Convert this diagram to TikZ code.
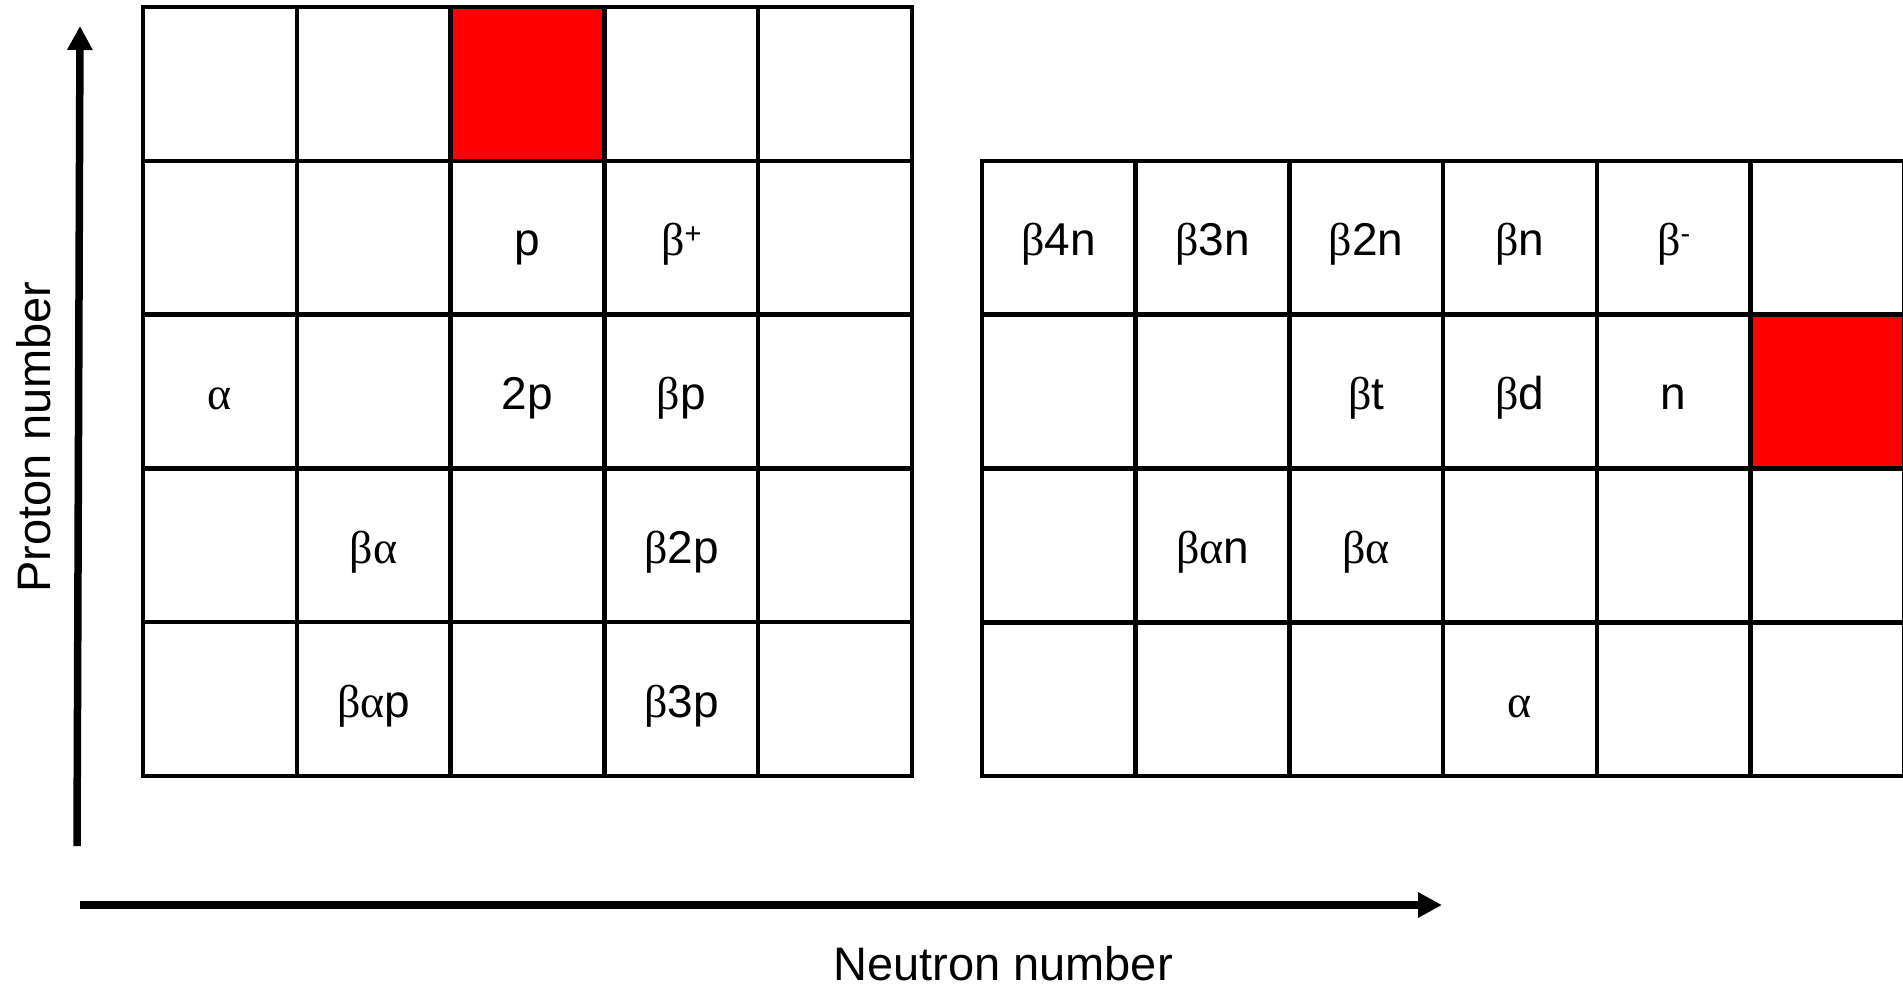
\documentclass[tikz,border=0pt]{standalone}
\usepackage{fontspec}
\setmainfont{Liberation Sans}
\newfontfamily\grk{Liberation Serif}
\usetikzlibrary{arrows.meta}
\newcommand{\bt}{{\grk β}}
\newcommand{\al}{{\grk α}}
\newcommand{\supx}[1]{\raisebox{12pt}{\fontsize{29}{30}\selectfont #1}}
\begin{document}
\begin{tikzpicture}[x=1pt,y=-1pt,
  cellbox/.style={draw=black, line width=4.5pt, minimum width=153.8pt, minimum height=153.8pt, inner sep=0pt, outer sep=0pt},
  hot/.style={fill=red},
  cellL13/.style={hot},
  cellR26/.style={hot},
  lbl/.style={font=\fontsize{46}{50}\selectfont, inner sep=0pt, anchor=base, yshift=-18pt},
  axislabel/.style={font=\fontsize{47}{52}\selectfont, inner sep=0pt},
  axisarrow/.style={line width=7.5pt, -{Triangle[length=24pt,width=24pt]}}]
\useasboundingbox (0,0) rectangle (1903,986);
% left grid
\foreach \r in {1,...,5}{\foreach \c in {1,...,5}{
  \node[cellbox, cellL\r\c/.try] (L-\r-\c) at ({143+(\c-0.5)*153.8},{7+(\r-0.5)*153.8}) {};
}}
% right grid
\foreach \r in {1,...,4}{\foreach \c in {1,...,6}{
  \node[cellbox, cellR\r\c/.try] (R-\r-\c) at ({982+(\c-0.5)*153.7},{161+(\r-0.5)*153.75}) {};
}}
% left labels
\node[lbl] (l-p)   at (L-2-3) {p};
\node[lbl] (l-bp1) at (L-2-4) {\bt\supx{+}};
\node[lbl] (l-a)   at (L-3-1) {\al};
\node[lbl] (l-2p)  at (L-3-3) {2p};
\node[lbl] (l-bp)  at (L-3-4) {\bt p};
\node[lbl] (l-ba)  at (L-4-2) {\bt\al};
\node[lbl] (l-b2p) at (L-4-4) {\bt 2p};
\node[lbl] (l-bap) at (L-5-2) {\bt\al p};
\node[lbl] (l-b3p) at (L-5-4) {\bt 3p};
% right labels
\node[lbl] (r-b4n) at (R-1-1) {\bt 4n};
\node[lbl] (r-b3n) at (R-1-2) {\bt 3n};
\node[lbl] (r-b2n) at (R-1-3) {\bt 2n};
\node[lbl] (r-bn)  at (R-1-4) {\bt n};
\node[lbl] (r-bm)  at (R-1-5) {\bt\supx{-}};
\node[lbl] (r-bt)  at (R-2-3) {\bt t};
\node[lbl] (r-bd)  at (R-2-4) {\bt d};
\node[lbl] (r-n)   at (R-2-5) {n};
\node[lbl] (r-ban) at (R-3-2) {\bt\al n};
\node[lbl] (r-ba)  at (R-3-3) {\bt\al};
\node[lbl] (r-a)   at (R-4-4) {\al};
% axes
\coordinate (ybot) at (77,846);
\coordinate (ytop) at (80,26);
\draw[axisarrow] (ybot) -- (ytop);
\coordinate (xl) at (80,905);
\coordinate (xr) at (1442,905);
\draw[axisarrow] (xl) -- (xr);
\node[axislabel, anchor=base] (nlab) at (1003,980) {Neutron number};
\node[axislabel, rotate=90, anchor=base] (plab) at (50,437) {Proton number};
\end{tikzpicture}
\end{document}
